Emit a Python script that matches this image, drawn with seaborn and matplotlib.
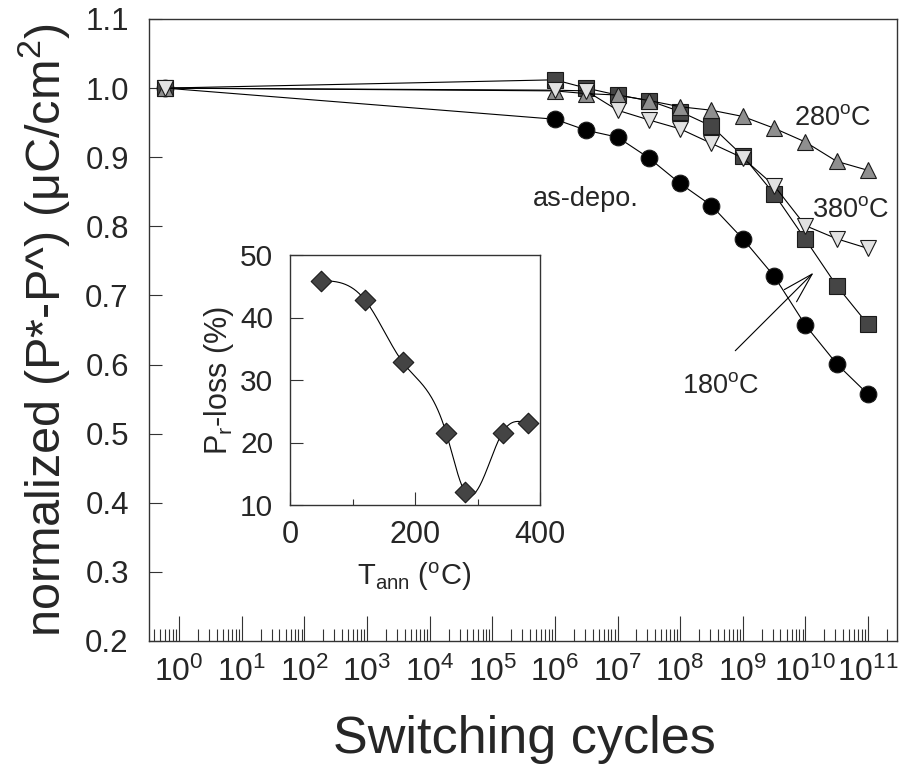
import numpy as np
import pandas as pd
import matplotlib
matplotlib.use("Agg")
import matplotlib.pyplot as plt
import seaborn as sns
from matplotlib.ticker import LogLocator, FixedLocator, NullFormatter

# ---------------- data ----------------
cycles = [0.6, 1e6, 3.16e6, 1e7, 3.16e7, 1e8, 3.16e8, 1e9, 3.16e9, 1e10, 3.16e10, 1e11]
as_depo = [1.0, 0.955, 0.939, 0.929, 0.899, 0.862, 0.830, 0.782, 0.728, 0.657, 0.601, 0.557]
t180 = [1.0, 1.012, 1.000, 0.990, 0.982, 0.966, 0.945, 0.902, 0.847, 0.781, 0.714, 0.658]
t280 = [1.0, 0.996, 0.992, 0.990, 0.982, 0.973, 0.968, 0.959, 0.942, 0.922, 0.894, 0.881]
t380 = [1.0, 0.997, 0.996, 0.968, 0.954, 0.941, 0.920, 0.899, 0.859, 0.801, 0.782, 0.768]

t_ann = [50, 120, 180, 250, 280, 340, 380]
p_loss = [45.9, 42.8, 32.9, 21.5, 12.1, 21.6, 23.1]

y_ticks = [0.2, 0.3, 0.4, 0.5, 0.6, 0.7, 0.8, 0.9, 1.0, 1.1]
x_major = [10.0 ** k for k in range(0, 12)]
inset_yticks = [10, 20, 30, 40, 50]
inset_xticks = [0, 200, 400]
inset_xminor = [100, 300]

# ---------------- style ----------------
sns.set_theme(style="ticks")
plt.rcParams["font.family"] = ["Liberation Sans", "DejaVu Sans"]
plt.rcParams["mathtext.fontset"] = "custom"
plt.rcParams["mathtext.rm"] = "Liberation Sans"
plt.rcParams["mathtext.it"] = "Liberation Sans"
plt.rcParams["mathtext.default"] = "regular"

W, H = 901, 767
fig = plt.figure(figsize=(W / 100, H / 100), dpi=100)
fig.patch.set_facecolor("white")

def fx(px):
    return px / W

def fy(py):
    return 1 - py / H

ax = fig.add_axes([fx(149), fy(641), fx(897) - fx(149), fy(19) - fy(641)])
ax.set_facecolor("white")

line_kw = dict(color="black", linewidth=0.8, markeredgecolor="#1a1a1a",
               markeredgewidth=0.8, estimator=None, sort=False, ax=ax, legend=False)

df = pd.DataFrame({"cycles": cycles, "as": as_depo, "t180": t180,
                   "t280": t280, "t380": t380})

sns.lineplot(data=df, x="cycles", y="as", marker="o", markersize=12,
             markerfacecolor="black", **line_kw)
sns.lineplot(data=df, x="cycles", y="t180", marker="s", markersize=11,
             markerfacecolor="#454545", **line_kw)
sns.lineplot(data=df, x="cycles", y="t280", marker="^", markersize=12,
             markerfacecolor="#8f8f8f", **line_kw)
sns.lineplot(data=df, x="cycles", y="t380", marker="v", markersize=12,
             markerfacecolor="#e2e2e2", **line_kw)

ax.set_xscale("log")
ax.set_xlim(0.33, 2.9e11)
ax.set_ylim(0.2, 1.1)
ax.set_xlabel("")
ax.set_ylabel("")
ax.xaxis.set_major_locator(FixedLocator(x_major))
ax.xaxis.set_minor_locator(LogLocator(base=10, subs=np.arange(2, 10), numticks=100))
ax.xaxis.set_minor_formatter(NullFormatter())
ax.set_xticks(x_major)
ax.set_xticklabels([r"$10^{%d}$" % k for k in range(0, 12)])
ax.set_yticks(y_ticks)
ax.set_yticklabels(["%.1f" % v for v in y_ticks])

ax.tick_params(axis="x", which="major", direction="in", length=18, width=0.8,
               color="#333333", labelsize=23, pad=11)
ax.tick_params(axis="x", which="minor", direction="in", length=8.6, width=0.8,
               color="#333333")
ax.tick_params(axis="y", which="major", direction="in", length=9.4, width=0.8,
               color="#333333", labelsize=22.5, pad=14.5)
ax.tick_params(axis="y", which="minor", left=False)
for s in ax.spines.values():
    s.set_visible(True)
    s.set_color("#333333")
    s.set_linewidth(1.0)

# annotations
ann_fs = 19.5
ax.text(10 ** 9.81, 0.946, r"280$^\mathregular{o}$C", fontsize=ann_fs, ha="left", va="baseline")
ax.text(10 ** 10.11, 0.813, r"380$^\mathregular{o}$C", fontsize=ann_fs, ha="left", va="baseline")
ax.text(10 ** 5.655, 0.830, "as-depo.", fontsize=ann_fs, ha="left", va="baseline")
ax.text(10 ** 8.035, 0.559, r"180$^\mathregular{o}$C", fontsize=ann_fs, ha="left", va="baseline")
ax.annotate("", xy=(10 ** 10.13, 0.733), xytext=(10 ** 8.88, 0.620),
            arrowprops=dict(arrowstyle="->,head_length=1.1,head_width=0.31",
                            mutation_scale=20, lw=0.8, color="black",
                            shrinkA=0, shrinkB=0))

# axis labels
fig.text(fx(524), fy(753), "Switching cycles", fontsize=37.5, ha="center", va="baseline")
fig.text(fx(60), fy(330), r"normalized (P*-P^) ($\mu$C/cm$^\mathregular{2}$)",
         fontsize=35, rotation=90, rotation_mode="anchor", ha="center", va="baseline")

# ---------------- inset ----------------
ins = fig.add_axes([fx(290), fy(505), fx(540) - fx(290), fy(255) - fy(505)])
ins.set_facecolor("white")

def natural_spline(xs, ys, xq):
    xs = np.asarray(xs, float)
    ys = np.asarray(ys, float)
    n = len(xs)
    h = np.diff(xs)
    A = np.zeros((n, n))
    b = np.zeros(n)
    A[0, 0] = 1
    A[-1, -1] = 1
    for i in range(1, n - 1):
        A[i, i - 1] = h[i - 1]
        A[i, i] = 2 * (h[i - 1] + h[i])
        A[i, i + 1] = h[i]
        b[i] = 3 * ((ys[i + 1] - ys[i]) / h[i] - (ys[i] - ys[i - 1]) / h[i - 1])
    c = np.linalg.solve(A, b)
    out = np.empty_like(xq)
    for j, xv in enumerate(xq):
        i = min(max(np.searchsorted(xs, xv) - 1, 0), n - 2)
        dx = xv - xs[i]
        bi = (ys[i + 1] - ys[i]) / h[i] - h[i] * (2 * c[i] + c[i + 1]) / 3
        di = (c[i + 1] - c[i]) / (3 * h[i])
        out[j] = ys[i] + bi * dx + c[i] * dx ** 2 + di * dx ** 3
    return out

t_dense = np.linspace(t_ann[0], t_ann[-1], 300)
curve = pd.DataFrame({"T": t_dense, "loss": natural_spline(t_ann, p_loss, t_dense)})
sns.lineplot(data=curve, x="T", y="loss", color="black", linewidth=0.8,
             estimator=None, sort=False, ax=ins, legend=False)
sns.scatterplot(x=t_ann, y=p_loss, marker="D", s=110, color="#444444",
                edgecolor="#1a1a1a", linewidth=0.8, ax=ins, legend=False, zorder=3)

ins.set_xlim(0, 400)
ins.set_ylim(10, 50)
ins.set_xlabel("")
ins.set_ylabel("")
ins.set_xticks(inset_xticks)
ins.set_xticks(inset_xminor, minor=True)
ins.set_yticks(inset_yticks)
ins.tick_params(axis="x", which="major", direction="in", length=9.4, width=0.8,
                color="#333333", labelsize=22, pad=11)
ins.tick_params(axis="x", which="minor", direction="in", length=4.5, width=0.8,
                color="#333333")
ins.tick_params(axis="y", which="major", direction="in", length=9, width=0.8,
                color="#333333", labelsize=21.5, pad=12)
for s in ins.spines.values():
    s.set_visible(True)
    s.set_color("#333333")
    s.set_linewidth(1.0)

fig.text(fx(414), fy(585), r"T$_\mathregular{ann}$ ($^\mathregular{o}$C)", fontsize=21,
         ha="center", va="baseline")
fig.text(fx(227), fy(380), r"P$_\mathregular{r}$-loss (%)", fontsize=22,
         rotation=90, rotation_mode="anchor", ha="center", va="baseline")

fig.savefig("out.png", dpi=100, facecolor="white")
